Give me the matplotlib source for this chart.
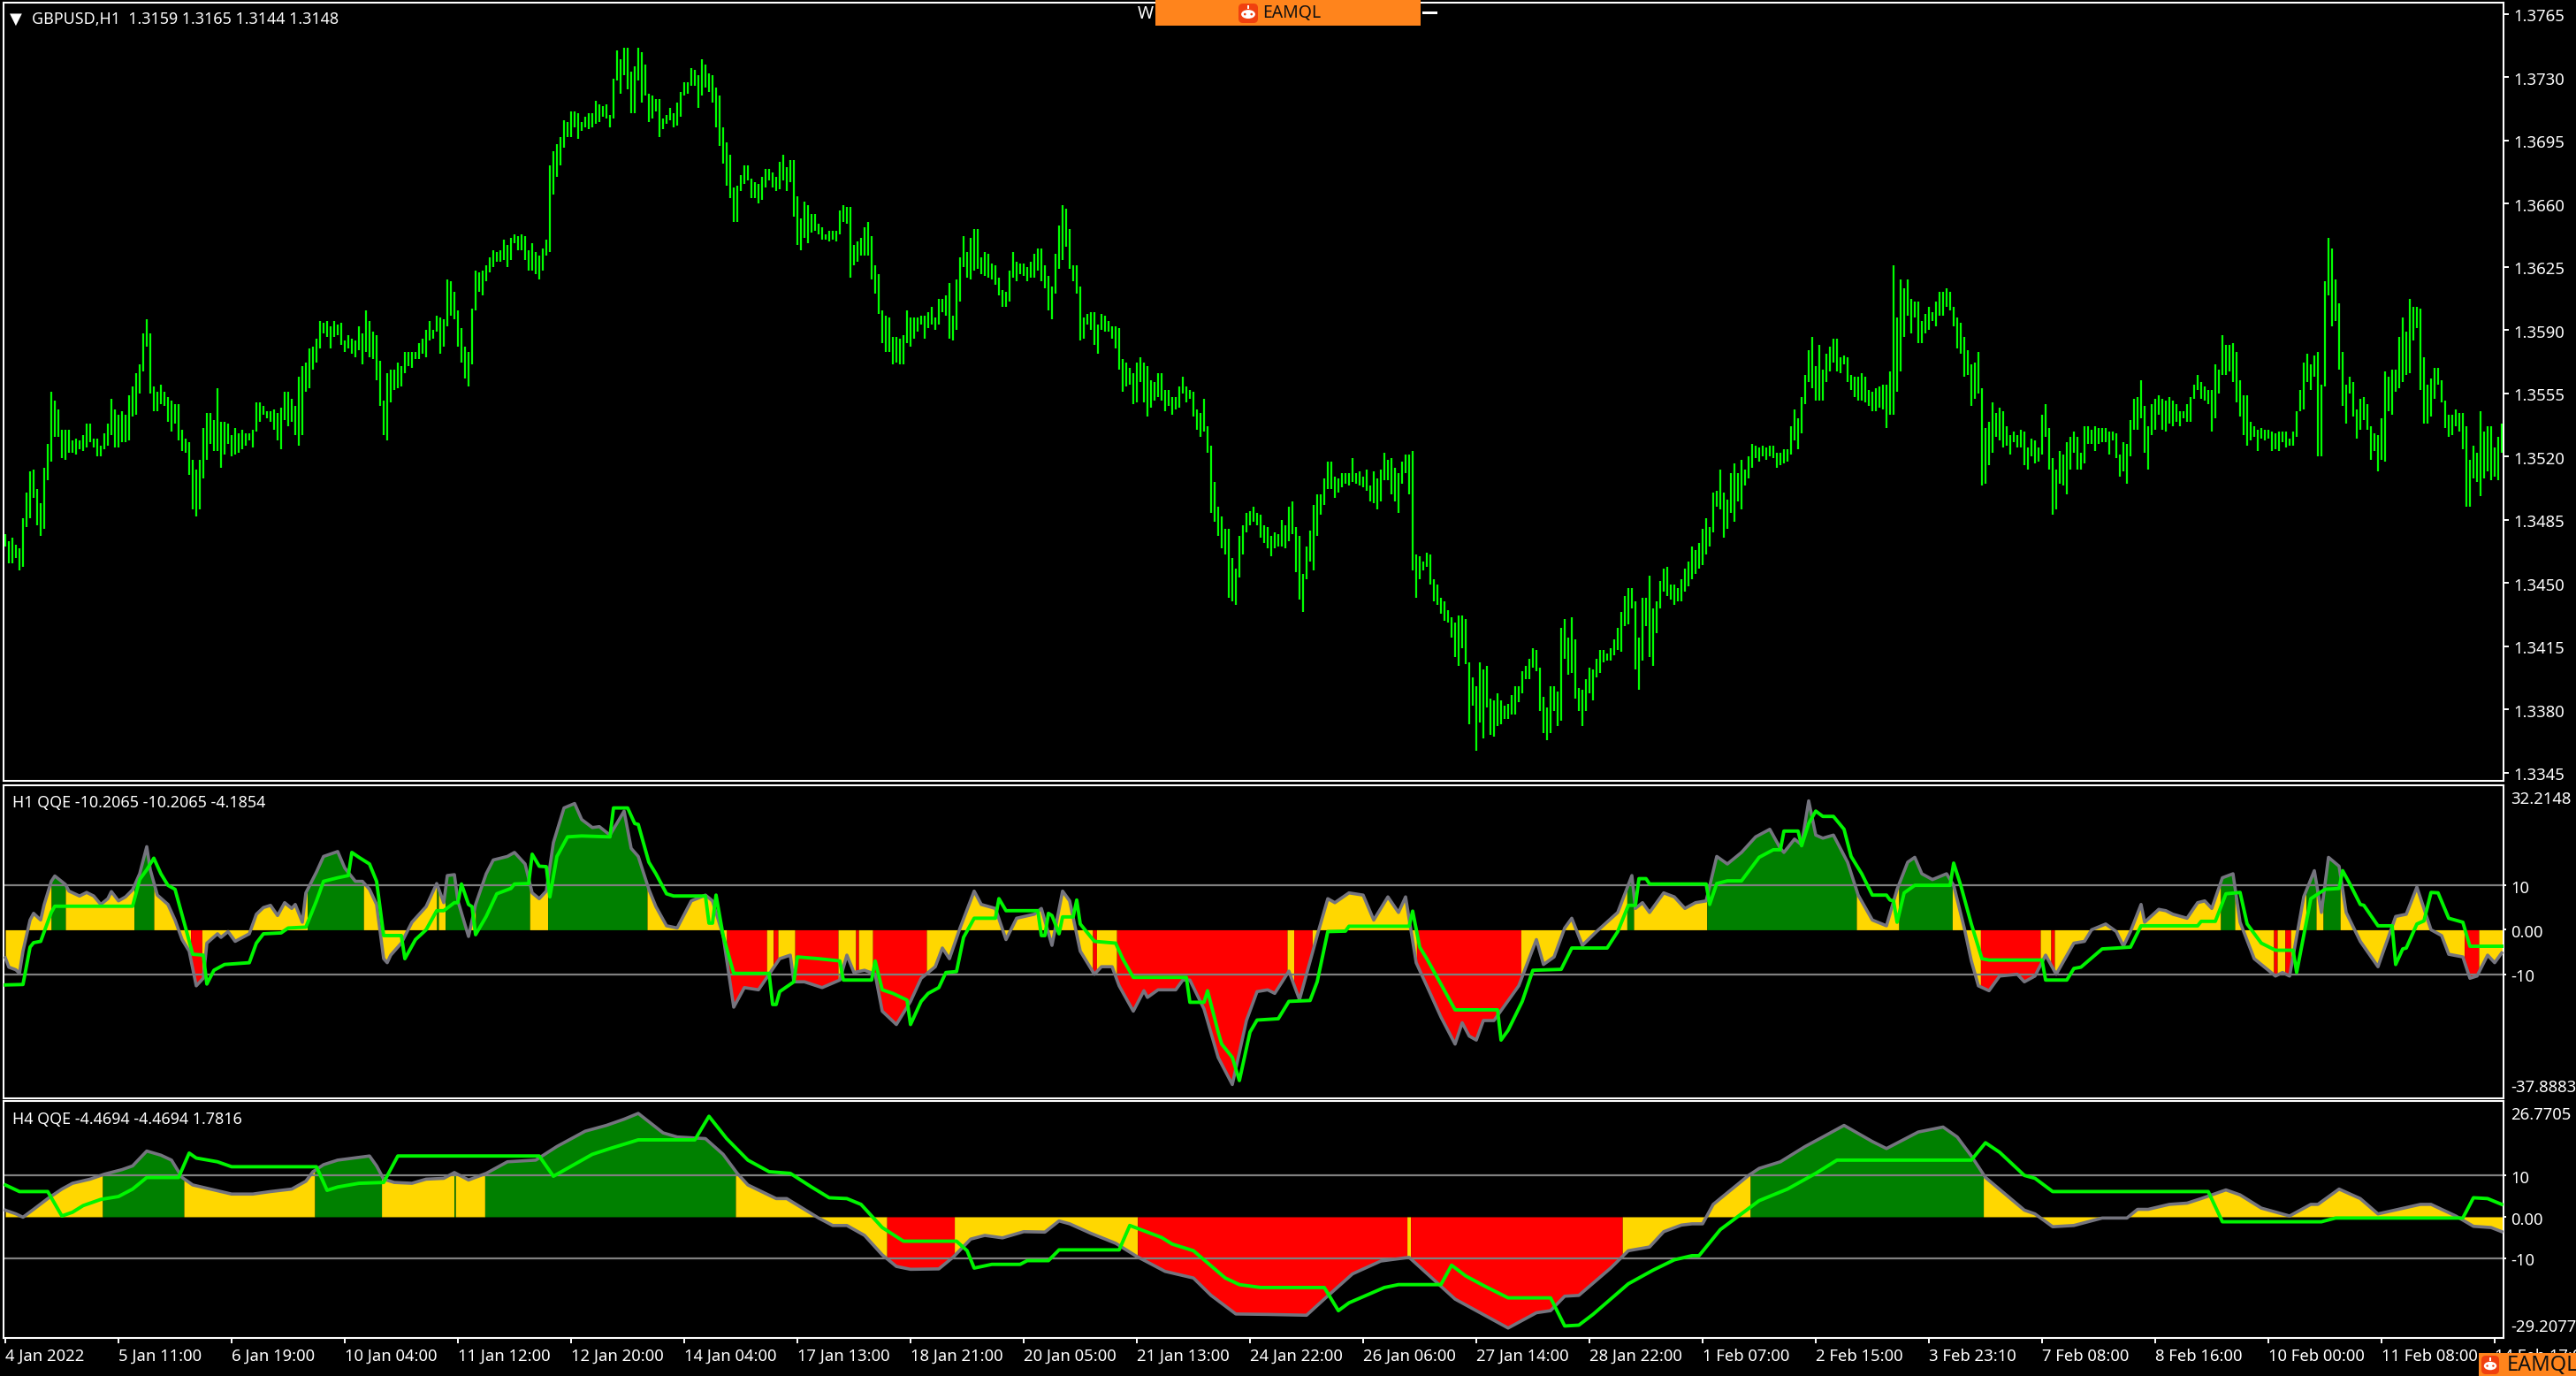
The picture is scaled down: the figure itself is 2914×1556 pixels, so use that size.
import numpy as np
import matplotlib
matplotlib.use('Agg')
import matplotlib.pyplot as plt
from matplotlib.patches import Rectangle, FancyBboxPatch, Ellipse, Circle
from matplotlib.transforms import ScaledTranslation

plt.rcParams['font.family'] = ['Noto Sans', 'DejaVu Sans']

# GBPUSD H1 bars, highs and lows in pips above 1.3000
bar_high = [
    477,473,475,471,469,486,500,512,513,502,494,514,527,556,551,546,535,535,535,529,530,529,532,538,538,530,530,526,533,538,552,546,543,545,543,554,559,566,571,588,596,588,559,556,560,556,553,551,549,549,535,530,528,518,513,518,536,544,544,540,558,539,539,538,532,536,533,535,533,533,535,550,550,548,545,545,546,544,547,556,556,552,548,564,570,572,580,581,585,595,594,595,592,595,593,594,584,587,585,584,592,588,601,595,589,587,573,551,566,568,568,572,570,578,578,578,578,583,
    585,590,595,590,598,597,596,618,617,611,601,591,581,578,602,623,622,623,626,630,634,633,634,640,637,641,643,642,643,642,634,638,633,631,635,640,681,689,693,697,706,705,711,711,710,705,708,710,710,717,715,714,715,709,729,745,740,746,746,733,736,746,744,737,721,720,718,718,707,709,713,710,716,722,727,727,735,734,731,740,737,732,731,724,720,702,694,687,669,670,676,681,681,674,672,671,675,679,679,677,675,683,687,680,684,684,664,652,661,659,654,654,649,647,643,645,645,645,656,
    659,658,658,637,639,641,647,650,642,626,621,601,598,597,586,586,585,587,601,597,597,597,598,598,600,603,597,607,607,609,616,598,618,630,642,633,641,646,646,630,633,632,627,626,619,612,611,623,633,628,627,627,625,628,632,635,635,626,620,614,632,648,659,657,646,626,626,614,597,599,600,600,593,599,598,595,592,592,591,574,572,569,566,572,575,572,570,562,561,566,566,557,557,553,553,559,564,559,557,556,546,544,552,537,526,506,492,487,480,480,464,458,476,482,489,490,492,489,
    488,482,481,476,478,477,485,482,492,495,481,476,455,470,479,493,499,499,508,517,517,509,508,511,511,511,519,511,512,509,513,504,512,508,513,522,518,519,514,511,517,521,521,523,466,465,462,467,466,452,449,442,440,435,431,428,432,432,430,406,398,393,406,402,404,386,385,389,385,382,383,388,393,393,401,404,408,414,413,403,387,381,393,393,390,425,430,420,431,419,392,391,397,403,402,408,413,413,411,414,419,425,434,443,447,447,440,420,442,442,454,436,440,451,458,459,449,449,447,
    452,458,462,470,468,472,480,486,
    481,500,501,513,500,496,511,516,511,518,513,520,527,526,525,526,525,526,526,522,522,524,524,537,546,541,553,565,579,586,570,582,568,577,581,585,585,575,576,575,565,564,564,566,564,557,556,558,559,560,560,567,626,597,618,613,618,607,606,606,595,599,603,600,606,611,611,613,611,603,597,594,586,579,571,572,578,558,536,539,550,544,547,545,537,532,534,532,535,534,525,530,529,525,543,549,536,519,513,523,521,528,531,534,531,522,537,537,535,537,536,
    536,536,534,534,533,521,528,527,540,552,553,562,548,537,549,552,554,552,551,553,551,549,545,545,549,553,560,565,561,559,557,557,571,568,587,582,582,583,578,562,554,554,539,537,535,536,535,535,534,533,534,534,534,530,534,545,557,572,577,571,576,578,560,617,641,635,618,605,578,560,564,561,546,552,553,549,537,533,532,541,567,564,568,568,586,597,589,607,603,603,602,575,560,563,569,569,562,551,543,543,546,544,544,537,518,526,522,545,534,537,537,525,531,538,
]
bar_low = [
    470,461,461,464,457,459,481,486,497,482,476,480,507,517,531,531,519,518,522,522,521,524,523,525,528,525,520,520,524,526,532,525,525,528,528,529,542,543,555,567,581,555,545,545,549,548,539,534,538,529,523,522,510,491,487,491,508,518,527,523,523,514,521,527,520,521,522,524,526,529,525,534,539,543,541,539,535,529,524,540,537,539,532,526,532,556,558,568,572,580,588,586,580,586,587,582,578,580,577,575,579,571,578,575,574,562,548,532,529,550,557,558,559,566,570,569,574,574,
    577,575,584,585,589,577,581,592,598,596,581,572,563,559,571,601,611,609,617,622,625,628,628,629,625,629,638,634,634,629,623,623,621,618,623,631,633,665,675,681,691,697,697,702,696,700,702,701,702,704,705,708,707,702,707,728,721,731,723,710,710,728,716,720,705,707,711,697,701,704,706,702,703,708,720,721,725,725,713,720,724,722,716,702,692,682,670,663,650,650,667,671,673,663,663,660,662,669,673,669,667,668,673,667,672,653,637,634,641,638,644,645,643,640,640,639,640,639,643,
    650,649,619,626,628,631,631,631,618,610,599,583,578,578,571,572,571,571,583,581,585,589,593,585,591,593,590,593,600,598,585,584,590,606,625,619,618,623,624,621,620,619,618,615,609,603,603,606,619,617,621,620,617,619,619,623,617,613,601,596,610,624,629,636,624,617,610,584,585,593,590,582,577,590,589,589,585,580,568,556,559,560,549,550,561,550,542,547,551,553,551,545,548,543,546,547,555,550,552,542,535,531,534,522,489,484,476,469,466,442,440,438,453,466,478,482,484,482,
    475,472,469,465,469,470,470,469,473,477,456,441,434,452,462,457,476,488,493,502,502,497,500,503,505,504,506,505,504,503,501,495,494,491,495,507,507,499,495,489,505,511,499,457,442,452,457,459,449,440,438,433,429,428,420,409,404,414,405,372,382,357,373,364,381,366,365,371,372,375,375,377,377,384,389,397,397,403,401,379,367,363,367,379,371,374,408,399,400,386,379,371,379,389,385,398,400,406,407,407,410,413,412,426,427,436,402,391,407,426,409,404,422,436,445,443,441,438,440,
    440,445,448,452,455,458,460,466,
    470,478,492,491,475,480,489,484,495,491,504,508,514,519,517,520,518,520,519,514,515,516,517,521,529,524,533,549,561,558,551,551,551,561,567,572,567,566,571,561,557,553,551,551,550,548,545,545,547,546,536,543,543,556,567,586,598,588,597,583,583,588,590,595,592,598,598,603,601,592,580,577,564,565,548,552,555,504,505,515,522,531,529,525,526,521,528,525,525,515,513,520,516,517,521,531,513,488,491,505,504,499,513,522,513,513,516,527,527,523,527,
    528,528,521,529,519,509,512,505,520,535,535,541,522,513,532,535,543,535,534,538,537,539,537,541,539,539,552,557,552,551,549,534,541,555,565,565,567,561,550,542,532,526,529,531,523,530,529,530,523,524,523,528,525,526,526,531,545,546,561,557,564,520,520,559,609,592,595,568,548,538,555,542,530,535,540,535,518,523,512,518,517,545,543,556,558,561,565,566,584,591,557,538,538,542,552,560,550,536,531,532,537,534,524,492,492,508,506,498,508,512,507,509,507,522,
]

price_ticks = [1.3765, 1.3730, 1.3695, 1.3660, 1.3625, 1.3590, 1.3555, 1.3520, 1.3485, 1.3450, 1.3415, 1.3380, 1.3345]

date_ticks = [0, 32, 64, 96, 128, 160, 192, 224, 256, 288, 320, 352, 384, 416, 448, 480, 512, 544, 576, 608, 640, 672, 704]
date_labels = ['4 Jan 2022', '5 Jan 11:00', '6 Jan 19:00', '10 Jan 04:00', '11 Jan 12:00', '12 Jan 20:00',
               '14 Jan 04:00', '17 Jan 13:00', '18 Jan 21:00', '20 Jan 05:00', '21 Jan 13:00', '24 Jan 22:00',
               '26 Jan 06:00', '27 Jan 14:00', '28 Jan 22:00', '1 Feb 07:00', '2 Feb 15:00', '3 Feb 23:10',
               '7 Feb 08:00', '8 Feb 16:00', '10 Feb 00:00', '11 Feb 08:00', '14 Feb 17:00']

# H1 QQE
h1_rsi_x = [0,1,3,4,5,7,8,10,11,13,14,17,18,21,23,25,27,29,30,32,34,36,38,40,41,43,46,48,50,52,54,56,57,60,61,63,65,69,71,73,75,77,79,81,82,84,85,88,90,94,96,99,101,103,105,107,108,109,112,115,119,122,124,125,127,128,131,133,136,138,142,144,147,149,151,153,155,158,161,163,166,168,171,175,177,179,182,184,187,190,194,198,200,203,206,209,213,216,219,222,223,226,231,236,238,240,243,246,248,
            252,256,259,263,265,267,270,274,276,280,283,286,291,293,296,299,301,304,308,310,313,315,319,322,323,326,331,333,335,339,343,347,351,354,357,359,363,366,371,374,376,380,384,387,391,394,396,399,402,406,410,412,414,416,418,421,428,433,435,438,441,443,446,450,456,460,461,463,465,469,472,475,478,481,
            484,487,491,495,499,502,503,506,508,510,512,514,517,521,524,528,532,535,538,540,542,545,549,551,554,556,558,561,564,569,571,574,577,580,585,588,590,594,597,599,601,604,605,609,611,613,617,620,622,624,627,630,632,636,642,644,646,650,653,655,657,660,662,666,671,676,679,682,686,689,691,695,697,699,702,704,706]
h1_rsi_y = [-6.3,-8.4,-9.0,-9.8,-4.8,2.2,3.7,2.2,5.7,10.9,12.1,10.2,8.7,7.6,8.4,7.6,5.7,7.0,8.6,6.5,7.4,9.0,12.6,18.7,13.5,7.8,5.7,2.2,-2.2,-4.8,-12.6,-10.9,-3.0,-0.9,-1.7,-0.4,-2.6,-0.9,3.5,5.0,5.5,3.2,6.1,4.8,5.7,1.7,8.3,13.0,16.5,17.6,13.9,10.9,10.9,9.1,5.7,-6.5,-7.4,-5.7,-3.0,1.7,5.2,10.4,6.1,12.2,12.4,6.5,-1.5,5.7,12.6,15.7,16.5,17.4,14.8,8.3,7.0,8.7,19.6,27.4,28.4,24.8,23.0,23.2,21.3,26.7,18.3,16.5,9.1,5.2,0.9,0.4,6.5,7.8,6.5,-1.3,-17.4,-13.0,-13.5,-10.0,-6.5,-5.7,-11.7,-11.7,-13.0,-11.3,-5.7,-9.6,-9.1,-10.0,-18.3,
            -21.3,-16.1,-10.9,-8.3,-4.1,-6.5,0.4,8.7,5.7,4.8,-2.2,2.6,3.5,4.8,-3.5,8.7,6.5,-4.8,-10.0,-8.3,-8.3,-12.6,-18.3,-13.7,-15.2,-13.5,-13.5,-11.3,-11.3,-17.8,-28.7,-34.8,-20.4,-13.9,-13.5,-14.3,-9.3,-15.7,-1.3,7.0,6.1,8.3,7.8,2.2,7.4,3.9,7.4,-7.4,-12.6,-19.6,-25.7,-20.9,-23.9,-24.8,-20.4,-20.4,-12.6,-2.2,-7.8,-6.1,0.4,2.6,-3.5,-0.4,3.9,12.2,4.8,6.1,3.9,8.3,7.4,4.8,6.1,6.5,
            16.5,14.8,17.4,20.9,22.6,18.3,17.4,20.4,19.1,29.0,21.3,20.6,21.3,15.2,7.8,2.2,0.9,9.1,15.2,16.3,12.6,11.3,12.6,10.0,0.4,-7.0,-12.6,-13.7,-10.4,-10.0,-11.7,-10.4,-5.7,-10.0,-3.0,-2.6,0.0,1.3,-0.4,-3.7,-0.4,5.7,1.7,4.6,4.3,3.5,2.6,6.1,6.5,4.8,11.7,12.6,1.7,-6.5,-10.4,-9.6,-10.4,7.4,13.3,3.9,16.3,14.3,3.9,-2.6,-8.3,3.0,3.5,9.6,0.0,-1.3,-5.5,-6.1,-10.9,-10.4,-5.7,-7.4,-5.2]

h1_signal_x = [0,5,7,8,10,13,14,36,38,40,42,44,46,48,51,53,56,57,59,62,69,71,73,78,80,85,88,90,94,97,98,100,103,105,107,112,113,116,119,122,124,127,128,129,131,132,133,136,139,143,144,148,149,151,153,154,156,159,163,171,172,176,178,179,182,184,187,189,198,199,200,201,203,206,216,217,218,219,223,224,230,236,237,245,246,248,
               251,255,256,259,261,264,266,269,271,274,280,281,283,292,293,294,295,296,298,299,302,303,304,308,314,316,319,334,335,339,340,343,344,347,349,352,354,360,363,369,371,374,379,380,397,398,400,402,406,410,422,423,425,429,432,440,443,453,456,459,461,462,464,465,481,
               482,484,487,491,496,500,502,503,507,508,510,512,514,517,520,522,525,528,532,533,534,535,537,540,550,551,553,556,559,561,576,577,583,585,587,593,601,604,620,621,625,628,632,634,638,642,647,648,652,656,660,661,663,666,667,671,675,676,678,679,682,684,686,688,691,695,697,706]
h1_signal_y = [-12.4,-12.3,-3.9,-2.9,-2.6,3.9,5.3,5.3,11.3,13.5,16.1,12.6,10.0,9.1,0.4,-5.5,-5.7,-12.2,-9.1,-7.8,-7.4,-3.0,-0.9,-0.7,0.4,0.6,6.5,10.9,11.7,12.2,17.4,16.3,14.8,10.9,-1.3,-1.3,-6.5,-2.2,0.0,4.3,4.3,6.1,6.1,10.3,5.7,5.2,-1.1,3.0,8.1,9.3,10.3,10.4,17.0,14.3,14.2,7.4,16.5,20.9,21.1,20.9,27.4,27.4,23.9,23.7,15.2,12.6,8.1,7.6,7.6,1.5,1.5,7.8,-1.3,-9.8,-9.8,-16.8,-16.8,-13.9,-11.7,-6.1,-6.5,-7.0,-11.3,-11.3,-7.0,-13.5,
               -14.3,-15.8,-21.3,-16.1,-14.3,-13.0,-9.6,-9.4,-1.7,2.6,2.6,7.0,4.3,4.3,-1.3,-1.3,3.7,3.2,-0.9,2.9,2.9,6.7,1.3,-2.6,-3.0,-6.5,-10.7,-10.7,-16.3,-16.3,-13.7,-23.0,-25.7,-28.7,-33.9,-23.0,-20.3,-20.0,-16.1,-15.9,-11.7,-0.4,-0.3,0.8,0.8,4.2,-3.9,-6.5,-12.2,-18.0,-18.0,-24.8,-22.6,-16.1,-9.1,-8.9,-4.1,-4.1,-0.4,5.5,5.5,11.5,11.5,10.3,10.3,
               5.7,10.4,11.0,11.0,16.3,18.0,18.0,22.2,22.2,18.9,23.9,26.7,25.5,25.5,22.6,16.5,12.6,7.8,7.8,6.7,6.5,1.7,8.3,10.0,10.0,15.0,10.0,1.3,-6.5,-6.8,-6.8,-11.3,-11.3,-8.7,-8.4,-4.3,-3.9,0.9,0.9,1.9,1.9,8.1,8.4,1.3,-3.0,-4.6,-4.6,-9.6,7.0,9.1,9.3,13.3,10.4,5.7,5.5,0.9,0.9,-7.8,-4.3,-4.1,1.3,2.0,8.4,8.3,2.6,1.7,-3.7,-3.7]

h1_seg_start = [0,13,17,36.4,42,52.4,55.6,85.4,101.3,122,122.5,124.4,130,133,148.3,153.4,181.5,204,215.3,217.2,218.5,223.3,235.5,240.5,241.3,245.3,
                260.5,307.5,308.6,314.3,362.5,364.4,369.6,399.1,428.6,458.6,460.5,481.2,
                523.5,535.5,550.6,558.6,575.5,578.5,579.5,626.5,630.5,641.5,642.5,644.7,646.3,650.7,653.5,655.5,660.3,695.4,699.5]
h1_seg_kind = 'ygygyrygygygygygyryryryryr' + 'yryryryrygyg' + 'ygyryrygyryrygygyry'

# H4 QQE
h4_rsi_x = [0,3,5,8,12,16,19,24,28,33,36,40,44,47,50,53,60,64,70,75,81,85,87,90,94,103,105,107,110,115,119,124,127,131,136,142,150,156,164,170,175,179,186,190,198,203,207,210,218,221,230,234,238,243,248,
            252,256,264,268,273,277,282,288,294,298,301,307,314,320,328,336,341,348,357,368,373,381,389,397,410,425,433,437,441,445,454,459,465,469,474,
            477,480,483,493,496,502,509,514,520,528,532,541,548,552,556,560,571,574,579,585,593,600,603,606,612,617,621,628,632,638,646,652,654,660,666,671,683,686,693,698,703,706]
h4_rsi_y = [1.6,0.7,-0.1,1.8,4.4,6.7,8.1,9.1,10.3,11.4,12.3,15.9,14.9,13.7,9.5,7.7,6.3,5.5,5.5,6.1,6.7,8.6,10.9,12.6,13.7,14.7,12.3,9.1,8.3,8.1,9.1,9.3,10.7,8.9,10.5,13.3,13.7,17.0,20.7,22.1,23.6,25.0,20.3,19.3,18.9,15.1,10.5,7.7,4.4,4.4,-0.3,-2.1,-2.1,-4.5,-9.2,
            -12.0,-12.7,-12.6,-9.8,-5.4,-4.5,-5.1,-3.6,-3.7,-1.0,-1.7,-4.0,-6.4,-9.6,-13.2,-14.8,-19.0,-23.5,-23.6,-23.8,-19.9,-13.8,-10.7,-9.8,-19.9,-26.9,-23.2,-22.7,-19.2,-19.0,-12.4,-8.2,-7.3,-3.6,-2.0,
            -1.7,-1.7,3.0,10.0,11.7,13.3,17.0,19.3,22.1,18.2,16.5,20.5,21.7,19.3,14.7,9.5,1.6,0.7,-2.4,-2.1,-0.3,-0.3,1.8,1.8,3.0,3.3,4.4,6.5,5.3,2.1,0.2,3.0,3.0,6.7,4.4,0.7,3.0,3.0,0.2,-2.3,-2.6,-3.6]

h4_signal_x = [0,4,12,16,19,22,27,32,36,40,49,52,54,60,64,88,91,94,100,107,111,151,155,166,171,179,195,199,204,210,216,222,228,233,238,242,248,
               254,269,272,274,279,287,289,295,298,315,318,327,330,336,345,349,355,373,377,380,390,394,406,409,413,418,425,437,441,445,449,459,466,472,477,479,485,496,
               504,512,518,556,560,564,571,574,579,623,627,655,659,695,698,702,706]
h4_signal_y = [7.7,6.1,6.1,0.2,1.1,2.7,4.2,4.9,6.7,9.5,9.5,15.4,14.2,13.3,12.1,12.1,6.4,7.2,8.1,8.3,14.7,14.7,9.8,15.1,16.5,18.6,18.6,24.3,18.9,13.7,10.9,10.5,7.2,4.6,4.4,3.0,-2.6,
               -5.9,-5.9,-8.2,-12.4,-11.5,-11.5,-10.6,-10.6,-8.0,-8.0,-2.1,-5.0,-6.6,-8.2,-14.8,-16.4,-17.1,-17.1,-22.7,-20.8,-17.1,-16.4,-16.4,-11.7,-14.3,-16.6,-19.6,-19.6,-26.4,-26.2,-23.6,-16.2,-12.9,-10.4,-9.4,-9.4,-3.1,3.9,
               6.7,10.5,13.7,13.7,17.9,15.6,10.0,9.3,6.1,6.1,-1.2,-1.2,-0.3,-0.3,4.6,4.4,3.0]

h4_seg_start = [0,27.5,50.5,87.5,106.4,126.9,127.3,135.6,206.5,249.3,268.4,320.2,396.4,397.4,457.3,493.5,559.4]
h4_seg_kind = 'ygygygygyryryryg' + 'y'

kleur = {'y': '#FFD700', 'g': '#008000', 'r': '#FF0000'}
W, H = 2914, 1556
LEFT, RIGHT = 4, 2832
XLIM = (-0.5, 706.5)
FS_AXIS = 13.3
FS_NAME = 12.9


def painel(top, bottom, ylim):
    ax = fig.add_axes([LEFT / W, 1 - bottom / H, (RIGHT - LEFT) / W, (bottom - top) / H], facecolor='black')
    ax.set_xlim(*XLIM)
    ax.set_ylim(*ylim)
    ax.set_xticks([])
    for lado in ax.spines.values():
        lado.set_color('white')
        lado.set_linewidth(1.5)
    ax.yaxis.tick_right()
    return ax


def desce_rotulos(ax):
    # the labels sit a little under their ticks
    for rotulo in ax.get_yticklabels():
        rotulo.set_transform(rotulo.get_transform() + ScaledTranslation(0, -1.2 / 72, fig.dpi_scale_trans))


def qqe(ax, seg_start, seg_kind, rsi_x, rsi_y, sig_x, sig_y, rotulos):
    fim = seg_start[1:] + [XLIM[1]]
    for ini, f, k in zip(seg_start, fim, seg_kind):
        xs = np.r_[ini, np.arange(np.ceil(ini), np.floor(f) + 1), f]
        ax.fill_between(xs, np.interp(xs, rsi_x, rsi_y), 0, color=kleur[k], lw=0, zorder=1)
    for nivel in [10, -10]:
        ax.axhline(nivel, color='#808080', lw=1.6, zorder=2)
    ax.plot(rsi_x, rsi_y, color='#74747E', lw=2.6, zorder=3)
    ax.plot(sig_x, sig_y, color='#00F500', lw=2.8, zorder=4)
    ax.set_yticks([10, 0, -10])
    ax.set_yticklabels(rotulos, color='white', fontsize=FS_AXIS)
    ax.tick_params(axis='y', colors='white', length=2, width=1.4, pad=4)
    desce_rotulos(ax)


fig = plt.figure(figsize=(W / 100, H / 100), dpi=100, facecolor='black')

# main chart
ax1 = painel(3, 883, (340.5, 771.2))
ax1.vlines(np.arange(len(bar_high)), bar_low, bar_high, color='#00FF00', lw=1.6)
ax1.set_yticks([(p - 1.3) * 10000 for p in price_ticks])
ax1.set_yticklabels(['%.4f' % p for p in price_ticks], color='white', fontsize=FS_AXIS)
ax1.tick_params(axis='y', colors='white', length=4, width=1.4, pad=4)
desce_rotulos(ax1)

ax2 = painel(888, 1242, (-37.9, 32.5))
qqe(ax2, h1_seg_start, h1_seg_kind, h1_rsi_x, h1_rsi_y, h1_signal_x, h1_signal_y, ['10', '0.00', '-10'])

ax3 = painel(1245, 1513, (-29.3, 28.0))
qqe(ax3, h4_seg_start, h4_seg_kind, h4_rsi_x, h4_rsi_y, h4_signal_x, h4_signal_y, ['10', '0.00', '-10'])
ax3.set_xticks(date_ticks)
ax3.set_xticklabels(date_labels, color='white', fontsize=FS_AXIS, ha='left')
ax3.tick_params(axis='x', colors='white', length=4, width=1.4, pad=4.5)

# texts and overlay boxes in screen pixels
top = fig.add_axes([0, 0, 1, 1], facecolor='none')
top.set_xlim(0, W)
top.set_ylim(H, 0)
top.axis('off')

top.text(18, 22, '▼', color='white', fontsize=13, ha='center', va='center', family='DejaVu Sans')
top.text(36, 22, 'GBPUSD,H1  1.3159 1.3165 1.3144 1.3148', color='white', fontsize=FS_NAME, va='center')
top.text(14, 908, 'H1 QQE -10.2065 -10.2065 -4.1854', color='white', fontsize=FS_NAME, va='center')
top.text(14, 1266, 'H4 QQE -4.4694 -4.4694 1.7816', color='white', fontsize=FS_NAME, va='center')
top.text(2840, 904, '32.2148', color='white', fontsize=FS_AXIS, va='center')
top.text(2840, 1230, '-37.8883', color='white', fontsize=FS_AXIS, va='center')
top.text(2840, 1261, '26.7705', color='white', fontsize=FS_AXIS, va='center')
top.text(2840, 1501, '-29.2077', color='white', fontsize=FS_AXIS, va='center')

# watermark
top.text(1287, 16, 'W', color='white', fontsize=14, fontweight='bold', va='center')
top.add_patch(Rectangle((1609, 13), 17, 2.5, color='white', lw=0))


def logo(x, y, w, h, txt_x, fs):
    top.add_patch(FancyBboxPatch((x, y), w, h, boxstyle='round,pad=0,rounding_size=5', fc='#F0400F', ec='none'))
    top.add_patch(Rectangle((x + w / 2 - 0.8, y + 2), 1.6, h * 0.2, fc='white', ec='none'))
    top.add_patch(Ellipse((x + w / 2, y + h * 0.55), w * 0.72, h * 0.45, fc='white', ec='none'))
    for lado in (-0.17, 0.17):
        top.add_patch(Circle((x + w / 2 + lado * w, y + h * 0.55), w * 0.06, fc='#F0400F', ec='none'))
    top.text(txt_x, y + h / 2, 'EAMQL', color='#111111', fontsize=fs, va='center', ha='left')


top.add_patch(Rectangle((1307, 0), 300, 29, fc='#FF841C', ec='none'))
logo(1401, 4, 22, 22, 1428, 14)

top.add_patch(Rectangle((2804, 1530), 110, 26, fc='#FF841C', ec='none'))
logo(2807, 1533, 20, 21, 2836, 17)

fig.savefig('out.png', dpi=100, facecolor='black')
